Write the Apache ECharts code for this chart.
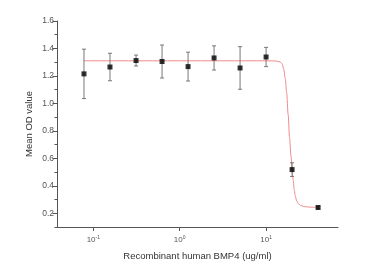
<!DOCTYPE html>
<html><head><meta charset="utf-8">
<script src="https://cdn.jsdelivr.net/npm/echarts@6/dist/echarts.min.js"></script>
<style>html,body{margin:0;padding:0;background:#fff}#c{width:369px;height:271px}</style>
</head><body><div id="c"></div>
<script>
// Concentrations (ug/ml)
var conc = [0.078, 0.156, 0.3125, 0.625, 1.25, 2.5, 5, 10, 20, 40];
// Mean OD values
var meanOD = [1.215, 1.265, 1.312, 1.305, 1.268, 1.331, 1.258, 1.338, 0.518, 0.242];
// Error (SD)
var errOD = [0.18, 0.10, 0.04, 0.12, 0.105, 0.088, 0.155, 0.07, 0.05, 0.008];
// Fitted curve
var fitX = [0.078, 1, 10, 13, 14.5, 15.3, 16, 16.7, 17.3, 18, 18.7, 19.4, 20, 20.6, 21.2, 21.8, 22.6, 23.6, 25, 27, 30, 34, 40];
var fitY = [1.31, 1.31, 1.31, 1.309, 1.302, 1.29, 1.25, 1.18, 1.08, 0.92, 0.75, 0.62, 0.52, 0.44, 0.37, 0.325, 0.29, 0.27, 0.258, 0.25, 0.246, 0.244, 0.243];
var yLabels = [0.2, 0.4, 0.6, 0.8, 1.0, 1.2, 1.4, 1.6];
var xLabels = [0.1, 1, 10];
var xExp = {0.1: '-1', 1: '0', 10: '1'};

var font = 'Liberation Sans, Arial, sans-serif';
var axisCol = '#555';
var chart = echarts.init(document.getElementById('c'));
var pts = conc.map(function (x, i) { return [x, meanOD[i]]; });
var errs = conc.map(function (x, i) { return [x, meanOD[i] - errOD[i], meanOD[i] + errOD[i]]; });
var fit = fitX.map(function (x, i) { return [x, fitY[i]]; });

chart.setOption({
  animation: false,
  grid: { left: 57, right: 31, top: 21, bottom: 44 },
  xAxis: {
    type: 'log', min: 0.038, max: 68,
    name: 'Recombinant human BMP4 (ug/ml)', nameLocation: 'middle', nameGap: 24,
    nameTextStyle: { fontFamily: font, fontSize: 9.5, color: '#333' },
    axisLine: { lineStyle: { color: axisCol, width: 1 } },
    axisTick: { customValues: xLabels, length: 4, inside: false, lineStyle: { color: axisCol } },
    axisLabel: {
      customValues: xLabels, margin: 8,
      formatter: function (v) { return '{b|10}{s|' + xExp[v] + '}'; },
      rich: { b: { fontFamily: font, fontSize: 8, color: '#555' }, s: { fontFamily: font, fontSize: 5, color: '#555', verticalAlign: 'top', padding: [0, 0, 4, 0] } }
    },
    splitLine: { show: false }, minorTick: { show: false }
  },
  yAxis: [{
    type: 'value', min: 0.1, max: 1.6, interval: 0.1,
    name: 'Mean OD value', nameLocation: 'middle', nameGap: 23, nameRotate: 90,
    nameTextStyle: { fontFamily: font, fontSize: 9.5, color: '#333' },
    axisLine: { show: true, lineStyle: { color: axisCol, width: 1 } },
    axisTick: { show: true, length: 2.5, lineStyle: { color: axisCol } },
    axisLabel: { show: false },
    splitLine: { show: false }
  }, {
    type: 'value', min: 0.1, max: 1.6, position: 'left',
    axisLine: { show: false },
    axisTick: { show: true, customValues: yLabels, length: 4.5, lineStyle: { color: axisCol } },
    axisLabel: { customValues: yLabels, margin: 3, fontFamily: font, fontSize: 8.5, color: '#555',
      formatter: function (v) { return v.toFixed(1); } },
    splitLine: { show: false }
  }],
  series: [{
    type: 'line', data: fit, showSymbol: false, smooth: 0.3, smoothMonotone: 'x',
    lineStyle: { color: '#f08a8a', width: 1 }, z: 2
  }, {
    type: 'custom', data: errs, z: 3,
    renderItem: function (params, api) {
      var x = api.value(0);
      var lo = api.coord([x, api.value(1)]);
      var hi = api.coord([x, api.value(2)]);
      var w = 2;
      var st = { stroke: '#777', lineWidth: 1 };
      return { type: 'group', children: [
        { type: 'line', shape: { x1: lo[0], y1: lo[1], x2: hi[0], y2: hi[1] }, style: st },
        { type: 'line', shape: { x1: lo[0] - w, y1: lo[1], x2: lo[0] + w, y2: lo[1] }, style: st },
        { type: 'line', shape: { x1: hi[0] - w, y1: hi[1], x2: hi[0] + w, y2: hi[1] }, style: st }
      ] };
    }
  }, {
    type: 'scatter', data: pts, symbol: 'rect', symbolSize: 5,
    itemStyle: { color: '#000' }, z: 4
  }]
});
</script></body></html>
